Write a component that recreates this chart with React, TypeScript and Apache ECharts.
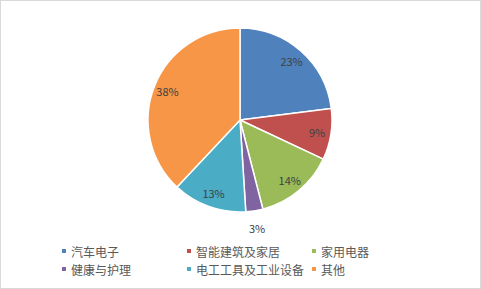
import React, { useEffect, useRef } from "react";
import * as echarts from "echarts";

const categories = ["汽车电子", "智能建筑及家居", "家用电器", "健康与护理", "电工工具及工业设备", "其他"];
const values = [23, 9, 14, 3, 13, 38];
const colors = ["#4F81BD", "#C0504D", "#9BBB59", "#8064A2", "#4BACC6", "#F79646"];
const legendColumns = [
  ["汽车电子", "健康与护理"],
  ["智能建筑及家居", "电工工具及工业设备"],
  ["家用电器", "其他"],
];
const outsideLabelIndex = 3;

export default function App() {
  const ref = useRef<HTMLDivElement>(null);
  useEffect(() => {
    if (!ref.current) return;
    const chart = echarts.init(ref.current, undefined, { renderer: "svg" });
    const font = "'Noto Sans CJK SC', 'Noto Sans', sans-serif";
    const center = [240, 120];
    const baseData = categories.map((name, i) => ({ name, value: values[i], itemStyle: { color: colors[i] } }));
    const labelStyle = { color: "#404040", fontSize: 11, fontFamily: font };
    chart.setOption({
      animation: false,
      backgroundColor: "#ffffff",
      legend: legendColumns.map((col, ci) => ({
        data: col,
        orient: "vertical",
        left: 60 + ci * 125,
        top: 244,
        padding: 0,
        icon: "rect",
        itemWidth: 6,
        itemHeight: 6,
        itemGap: 4,
        selectedMode: false,
        textStyle: { color: "#595959", fontSize: 12, fontFamily: font, lineHeight: 14, padding: [0, 0, 0, -1] },
      })),
      series: [
        {
          type: "pie",
          center,
          radius: [0, 92],
          startAngle: 90,
          clockwise: true,
          silent: true,
          percentPrecision: 0,
          itemStyle: { borderColor: "#ffffff", borderWidth: 1.5 },
          label: { show: false },
          labelLine: { show: false },
          data: baseData,
        },
        {
          type: "pie",
          center,
          radius: [59, 91],
          startAngle: 90,
          silent: true,
          percentPrecision: 0,
          itemStyle: { color: "rgba(0,0,0,0)" },
          label: { show: true, position: "inside", formatter: "{d}%", ...labelStyle },
          labelLine: { show: false },
          emphasis: { disabled: true },
          data: categories.map((name, i) => ({
            name,
            value: values[i],
            itemStyle: { color: "rgba(0,0,0,0)" },
            label: { show: i !== outsideLabelIndex },
          })),
        },
        {
          type: "pie",
          center,
          radius: [98, 114],
          startAngle: 90,
          silent: true,
          percentPrecision: 0,
          itemStyle: { color: "rgba(0,0,0,0)" },
          label: { show: true, position: "inside", formatter: "{d}%", ...labelStyle },
          labelLine: { show: false },
          emphasis: { disabled: true },
          data: categories.map((name, i) => ({
            name,
            value: values[i],
            itemStyle: { color: "rgba(0,0,0,0)" },
            label: { show: i === outsideLabelIndex },
          })),
        },
      ],
    });
    return () => chart.dispose();
  }, []);
  return (
    <div style={{ position: "absolute", left: 0, top: 0, width: 481, height: 289, background: "#fff" }}>
      <div ref={ref} style={{ position: "absolute", left: 0, top: 0, width: 481, height: 289 }} />
      <div
        style={{
          position: "absolute",
          left: 0,
          top: 0,
          width: 481,
          height: 289,
          boxSizing: "border-box",
          border: "1px solid #d9d9d9",
          pointerEvents: "none",
        }}
      />
    </div>
  );
}
